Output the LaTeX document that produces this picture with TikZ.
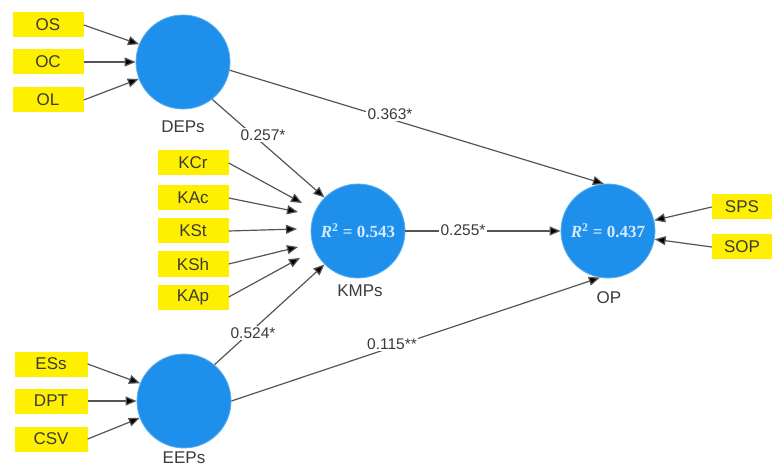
\documentclass[tikz,border=0pt]{standalone}
\usepackage{fontspec}
\setmainfont{Liberation Sans}
\newfontfamily\rfont{Liberation Serif}
\usetikzlibrary{arrows.meta}
\definecolor{circfill}{HTML}{1E8FEA}
\definecolor{circline}{HTML}{5AAEF2}
\definecolor{boxfill}{HTML}{FFF000}
\definecolor{txtc}{HTML}{3A3A3A}
\definecolor{linec}{HTML}{555555}
\definecolor{rtxt}{HTML}{D4EAFF}
\tikzset{
  lv/.style={circle, fill=circfill, draw=circline, line width=0.8pt, minimum size=94pt, inner sep=0pt},
  ind/.style={fill=boxfill, text=txtc, minimum width=71pt, minimum height=25pt, inner sep=0pt, font=\fontsize{17}{20}\selectfont},
  lvname/.style={text=txtc, font=\fontsize{17}{20}\selectfont},
  arr/.style={draw=linec, line width=1.2pt, -{Triangle[length=11pt,width=9pt,fill=black]}},
  coef/.style={fill=white, text=txtc, inner sep=1.5pt, font=\fontsize{15.5}{18}\selectfont},
  rsq/.style={text=rtxt, font=\rfont\bfseries\fontsize{17}{20}\selectfont}
}
\newcommand{\rsqtext}[1]{\textit{R}\textsuperscript{2} = #1}
\begin{document}
\begin{tikzpicture}[x=1pt,y=-1pt]
\useasboundingbox (0,0) rectangle (772,468);
% latent variables
\node[lv] (DEP) at (183,62) {};
\node[lv] (KMP) at (358,231) {};
\node[lv] (OP) at (608,231) {};
\node[lv] (EEP) at (184,401) {};
\node[rsq] at (KMP) {\rsqtext{0.543}};
\node[rsq] at (OP) {\rsqtext{0.437}};
\node[lvname] (DEPn) at (183,127) {DEPs};
\node[lvname] (KMPn) at (360,291) {KMPs};
\node[lvname] (OPn) at (609,298) {OP};
\node[lvname] (EEPn) at (184,458) {EEPs};
% indicators
\node[ind] (OS) at (48,25) {OS};
\node[ind] (OC) at (48,62) {OC};
\node[ind] (OL) at (48,100) {OL};
\node[ind] (KCr) at (193,163) {KCr};
\node[ind] (KAc) at (193,198) {KAc};
\node[ind] (KSt) at (193,231) {KSt};
\node[ind] (KSh) at (193,264) {KSh};
\node[ind] (KAp) at (193,297) {KAp};
\node[ind, minimum width=60pt] (SPS) at (742,207) {SPS};
\node[ind, minimum width=60pt] (SOP) at (742,247) {SOP};
\node[ind, minimum width=73pt] (ESs) at (51,364) {ESs};
\node[ind, minimum width=73pt] (DPT) at (51,401) {DPT};
\node[ind, minimum width=73pt] (CSV) at (51,439) {CSV};
% free arrow ends for K indicators
\coordinate (tKCr) at (302,203);
\coordinate (tKAc) at (298,212);
\coordinate (tKSt) at (297,229);
\coordinate (tKSh) at (298,247);
\coordinate (tKAp) at (300,258);
% indicator arrows
\draw[arr] (OS.east) -- (DEP.158);
\draw[arr] (OC.east) -- (DEP.west);
\draw[arr] (OL.east) -- (DEP.201);
\draw[arr] (KCr.east) -- (tKCr);
\draw[arr] (KAc.east) -- (tKAc);
\draw[arr] (KSt.east) -- (tKSt);
\draw[arr] (KSh.east) -- (tKSh);
\draw[arr] (KAp.east) -- (tKAp);
\draw[arr] (ESs.east) -- (EEP.158);
\draw[arr] (DPT.east) -- (EEP.west);
\draw[arr] (CSV.east) -- (EEP.201);
\draw[arr] (SPS.west) -- (OP.13);
\draw[arr] (SOP.west) -- (OP.-10);
% structural paths
\draw[arr] (DEP.-10) -- (OP.95);
\draw[arr] (DEP.-52) -- (KMP.135);
\draw[arr] (EEP.50) -- (KMP.-135);
\draw[arr] (KMP.east) -- (OP.west);
\draw[arr] (EEP.east) -- (OP.-100);
% coefficients
\node[coef] (c1) at (390,114) {0.363*};
\node[coef] (c2) at (263,135) {0.257*};
\node[coef] (c3) at (463,230) {0.255*};
\node[coef] (c4) at (253,333) {0.524*};
\node[coef] (c5) at (392,344) {0.115**};
\end{tikzpicture}
\end{document}
